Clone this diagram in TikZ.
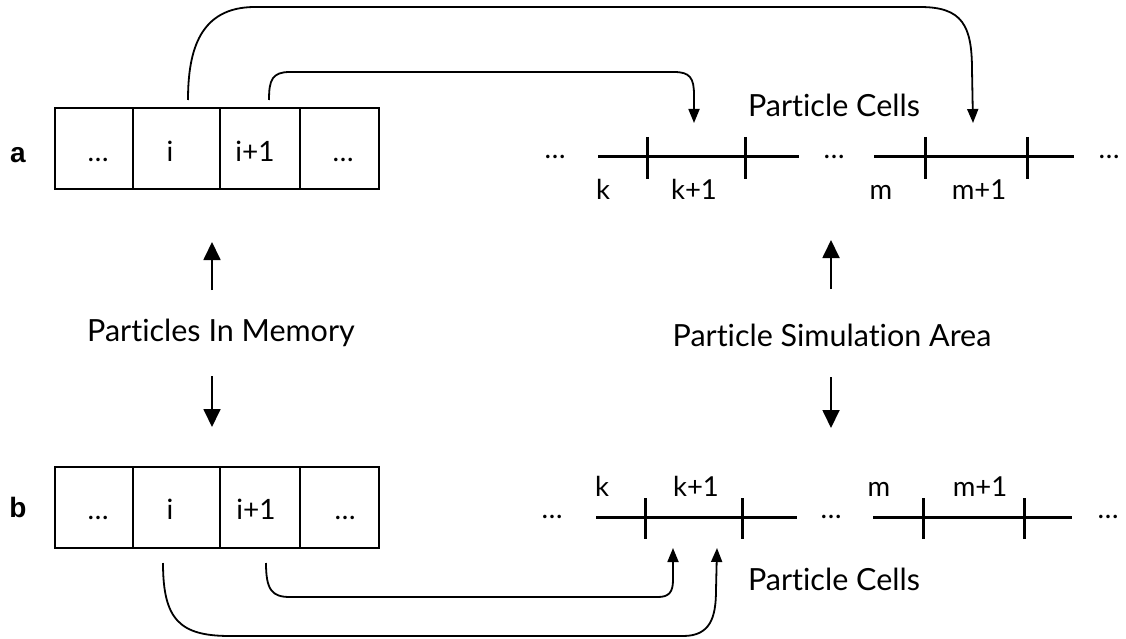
\documentclass[tikz,border=0pt]{standalone}
\usepackage{fontspec}
\setmainfont{Lato}[Ligatures=NoCommon]
\newfontfamily\labfont{Liberation Sans}
\usetikzlibrary{arrows.meta}
\begin{document}
\begin{tikzpicture}[x=1pt,y=-1pt,
  cellbox/.style={draw, line width=2.8pt, minimum height=81pt, inner sep=0pt},
  txt/.style={font=\fontsize{28}{32}\selectfont, inner sep=0pt, anchor=base},
  bigtxt/.style={font=\fontsize{30.5}{34}\selectfont, inner sep=0pt, anchor=base},
  ptxt/.style={font=\fontsize{27.5}{31}\selectfont, inner sep=0pt, anchor=base},
  rowlab/.style={font=\labfont\bfseries\fontsize{28}{32}\selectfont, inner sep=0pt, anchor=base},
  link/.style={line width=1.8pt, -{Triangle[length=14pt,width=11pt]}},
  bigarrow/.style={line width=1.8pt, -{Triangle[length=18pt,width=17pt]}},
  axisline/.style={line width=3pt},
  tickmark/.style={line width=3pt}]
\useasboundingbox (0,0) rectangle (1126,639);

% ---------- row a ----------
\node[rowlab] (la) at (18,163) {a};
\node[cellbox, minimum width=78pt] (a1) at (94,148.5) {};
\node[cellbox, minimum width=87pt] (a2) at (176.5,148.5) {};
\node[cellbox, minimum width=80pt] (a3) at (260,148.5) {};
\node[cellbox, minimum width=79pt] (a4) at (339.5,148.5) {};
\node[txt] (ta1) at (98,162) {…};
\node[txt] (ta2) at (170,162) {i};
\node[txt] (ta3) at (255,162) {i+1};
\node[txt] (ta4) at (343,162) {…};

\node[txt] (da1) at (555,158.5) {…};
\node[txt] (da2) at (834,158.5) {…};
\node[txt] (da3) at (1109,158.5) {…};
\coordinate (al1s) at (598,157); \coordinate (al1e) at (799,157);
\coordinate (al2s) at (874,157); \coordinate (al2e) at (1074,157);
\draw[axisline] (al1s) -- (al1e);
\draw[axisline] (al2s) -- (al2e);
\foreach \x in {647,745,925,1027} \draw[tickmark] (\x,137) -- (\x,179);
\node[ptxt] (ka) at (603,200) {k};
\node[ptxt] (k1a) at (694,200) {k+1};
\node[ptxt] (ma) at (881,200) {m};
\node[ptxt] (m1a) at (979,200) {m+1};
\node[bigtxt] (pca) at (834,117) {Particle Cells};

% connectors row a
\coordinate (s1) at (188,100); \coordinate (t1) at (973,123);
\coordinate (s2) at (269,100); \coordinate (t2) at (694,123);
\draw[link] (s1) .. controls (188,50) and (200,7) .. (255,7) -- (920,7)
  .. controls (962,7) and (972,25) .. (972,70) -- (t1);
\draw[link] (s2) .. controls (269,80) and (272,72) .. (290,72) -- (674,72)
  .. controls (690,72) and (694,78) .. (694,95) -- (t2);

% ---------- middle ----------
\node[bigtxt] (pm) at (221,341) {Particles In Memory};
\node[bigtxt] (psa) at (832,346) {Particle Simulation Area};
\coordinate (pmu) at (212,290); \coordinate (pmut) at (212,242);
\coordinate (pmd) at (212,376); \coordinate (pmdt) at (212,427);
\coordinate (psu) at (831,289); \coordinate (psut) at (831,240);
\coordinate (psd) at (831,377); \coordinate (psdt) at (831,428);
\draw[bigarrow] (pmu) -- (pmut);
\draw[bigarrow] (pmd) -- (pmdt);
\draw[bigarrow] (psu) -- (psut);
\draw[bigarrow] (psd) -- (psdt);

% ---------- row b ----------
\node[rowlab] (lb) at (18,517) {b};
\node[cellbox, minimum width=78pt] (b1) at (94,507.5) {};
\node[cellbox, minimum width=87pt] (b2) at (176.5,507.5) {};
\node[cellbox, minimum width=80pt] (b3) at (260,507.5) {};
\node[cellbox, minimum width=79pt] (b4) at (339.5,507.5) {};
\node[txt] (tb1) at (98,519) {…};
\node[txt] (tb2) at (170,519) {i};
\node[txt] (tb3) at (256,519) {i+1};
\node[txt] (tb4) at (345,519) {…};

\node[txt] (db1) at (552,518.5) {…};
\node[txt] (db2) at (831,518.5) {…};
\node[txt] (db3) at (1108,518.5) {…};
\coordinate (bl1s) at (596,517); \coordinate (bl1e) at (797,517);
\coordinate (bl2s) at (873,517); \coordinate (bl2e) at (1072,517);
\draw[axisline] (bl1s) -- (bl1e);
\draw[axisline] (bl2s) -- (bl2e);
\foreach \x in {645,742,923,1024} \draw[tickmark] (\x,498) -- (\x,539);
\node[ptxt] (kb) at (602,496) {k};
\node[ptxt] (k1b) at (696,496) {k+1};
\node[ptxt] (mb) at (879,496) {m};
\node[ptxt] (m1b) at (980,496) {m+1};
\node[bigtxt] (pcb) at (834,590) {Particle Cells};

% connectors row b
\coordinate (s3) at (163,563); \coordinate (t3) at (717,548);
\coordinate (s4) at (266,563); \coordinate (t4) at (673,548);
\draw[link] (s3) .. controls (163,620) and (180,636) .. (230,636) -- (683,636)
  .. controls (710,636) and (716,618) .. (716,590) -- (t3);
\draw[link] (s4) .. controls (266,590) and (272,597) .. (290,597) -- (658,597)
  .. controls (669,597) and (673,592) .. (673,580) -- (t4);
\end{tikzpicture}
\end{document}
